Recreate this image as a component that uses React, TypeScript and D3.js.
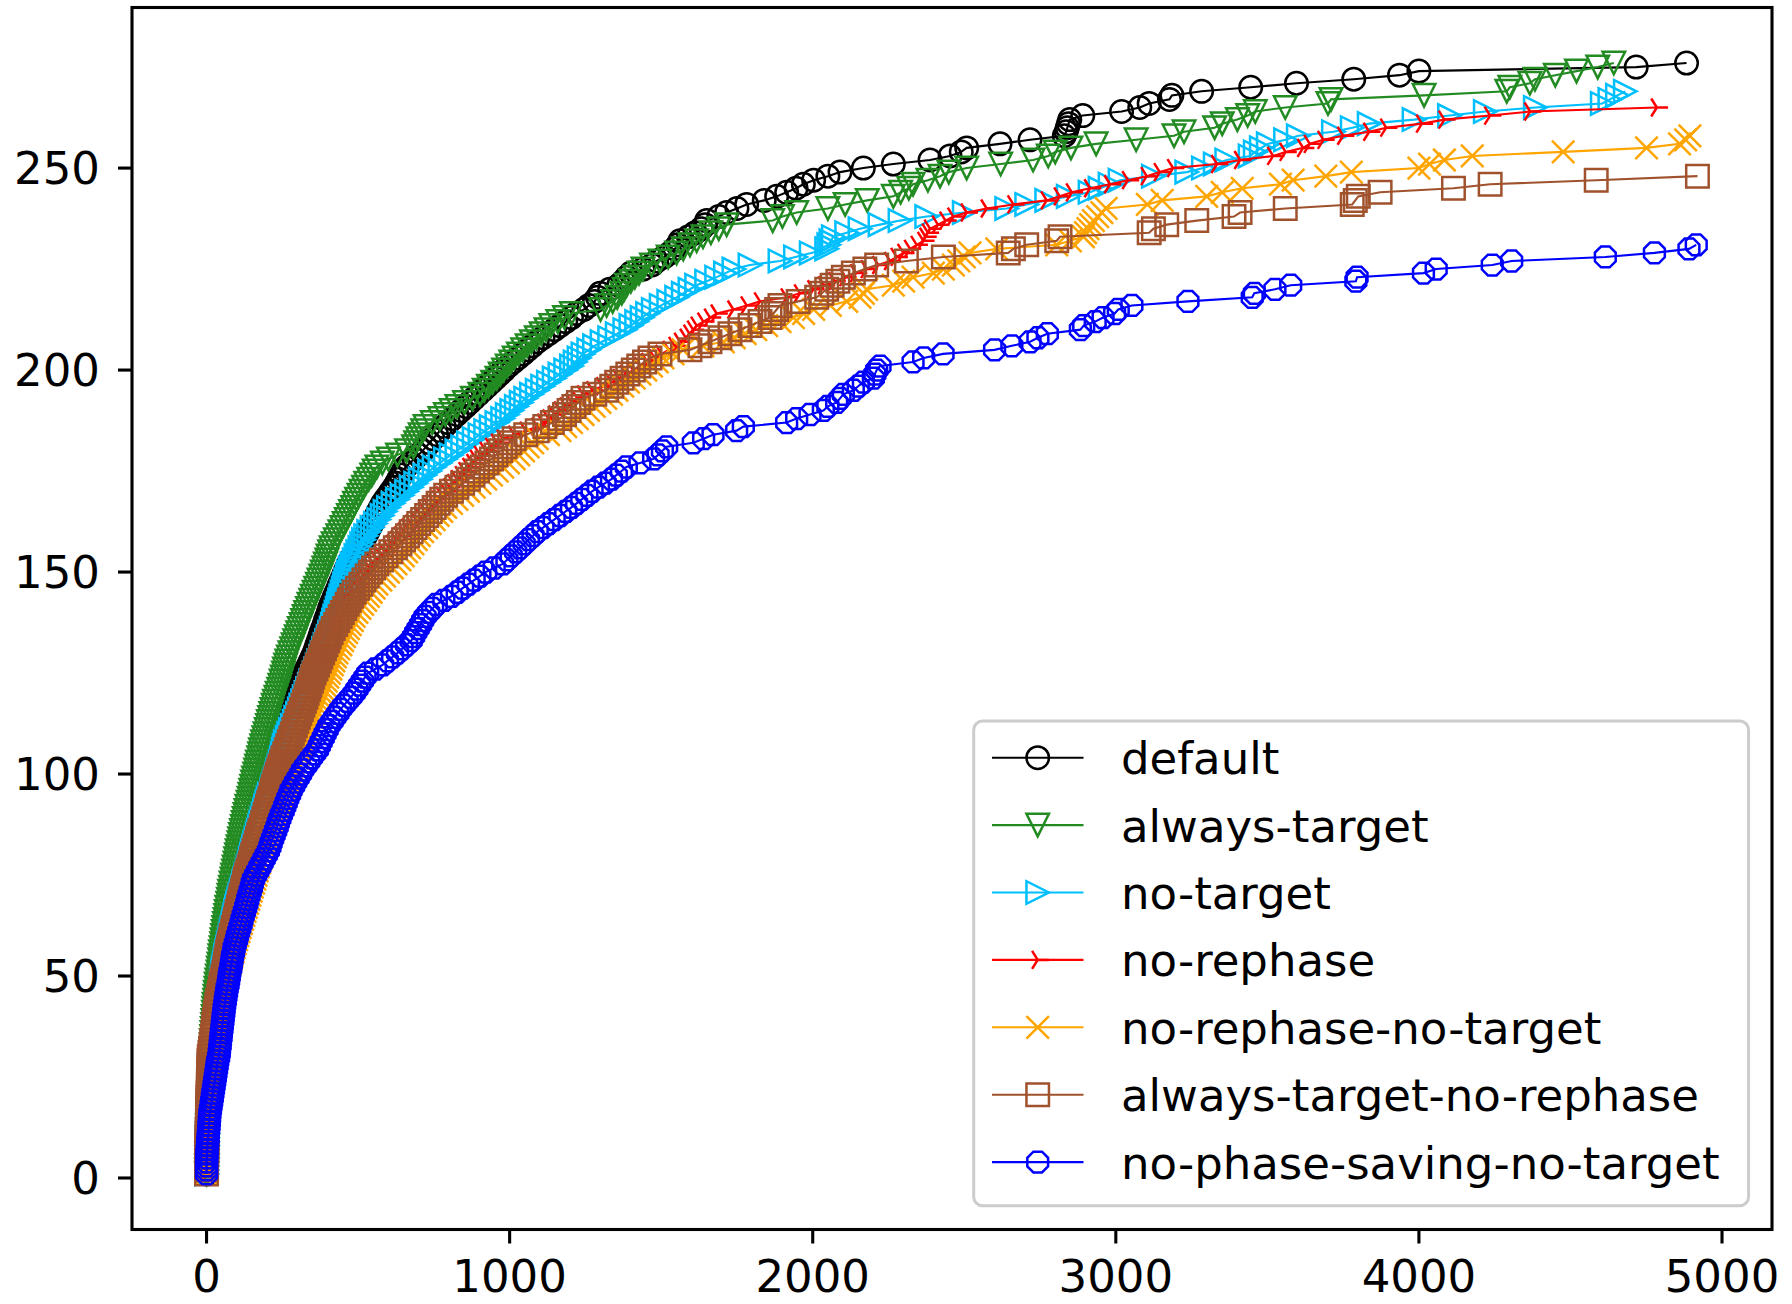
import React from "react";
import * as d3 from "d3";

// Cactus plot: each series lists the (sorted) solve times; the y value of the k-th point is k.
const seriesNames = [
  "default",
  "always-target",
  "no-target",
  "no-rephase",
  "no-rephase-no-target",
  "always-target-no-rephase",
  "no-phase-saving-no-target",
];

const defaultTimes = [
  0,0,0,0,0,1,1,1,1,2,2,2,3,3,3,4,4,5,5,6,6,7,8,
  9,10,11,12,13,14,15,17,18,19,21,22,24,26,
  28,30,32,34,36,38,40,42,44,46,48,50,51,53,
  56,59,61,64,67,69,72,75,77,80,83,85,88,91,
  94,97,100,103,106,109,112,115,119,122,125,128,
  132,136,140,145,149,153,157,161,165,170,174,
  178,183,187,192,196,201,205,210,214,219,223,
  226,229,232,235,238,241,245,248,251,254,257,260,
  264,268,272,277,281,285,289,293,297,302,306,
  312,318,324,330,337,343,349,355,
  360,364,369,374,378,383,388,392,397,402,406,411,
  417,422,428,434,439,445,451,456,462,468,
  476,484,492,500,509,517,525,
  532,539,546,553,560,567,574,581,
  590,600,609,619,
  627,634,642,649,657,
  671,685,699,713,
  724,736,747,759,770,
  784,798,812,826,
  840,855,869,883,
  897,912,926,940,
  954,968,982,996,
  1012,1028,1044,1059,1075,1091,
  1110,1129,1148,1166,1185,1204,
  1220,1245,1262,1280,1290,1298,1330,1360,1375,1386,1400,1440,1470,1485,1510,1530,1545,1555,1562,1590,
  1612,1632,1645,1650,1690,1716,1750,1782,1840,1881,1914,1945,1969,2003,2050,2090,2167,2266,2387,2453,
  2490,2508,2618,2717,2830,2836,2840,2844,2848,2891,3019,3079,3110,3177,3185,3283,3445,3596,3785,3936,
  4000,4717,4883,
];

const alwaysTargetTimes = [
  0,0,0,1,1,1,2,2,2,3,
  3,4,4,5,5,6,6,7,7,8,
  8,9,9,10,10,11,11,12,12,13,
  14,15,16,16,17,18,19,
  20,21,22,23,24,25,27,28,29,31,32,34,36,
  38,39,41,43,44,46,48,50,51,53,
  55,57,59,61,63,65,67,70,72,74,
  76,79,81,84,86,89,91,
  94,96,99,101,104,107,109,112,115,
  118,121,124,127,130,133,137,140,
  143,146,149,152,155,159,162,
  165,168,172,175,178,182,185,
  189,193,197,201,204,208,212,
  216,220,224,229,233,238,242,
  246,250,254,257,261,265,
  270,275,281,286,291,
  296,301,306,312,317,322,
  327,333,338,344,349,355,
  360,366,371,377,382,
  387,392,397,401,406,411,
  418,425,433,440,
  447,454,461,468,
  475,482,488,495,
  503,510,518,525,
  535,545,553,562,580,600,630,660,683,
  690,697,705,713,721,745,770,
  788,807,826,851,877,902,
  916,930,944,958,
  969,980,992,1004,1015,
  1029,1043,1058,1072,
  1088,1104,1120,1136,
  1159,1181,1204,
  1300,1320,1340,1355,1370,1378,1386,1400,1413,1427,1440,1468,1496,1523,1551,1573,1595,1617,1638,1664,
  1690,1716,1868,1900,1947,2050,2107,2180,2266,2290,2317,2331,2380,2420,2449,2508,2620,2727,2777,2800,
  2852,2935,3067,3192,3225,3326,3351,3401,3435,3460,3559,3700,3710,4017,4290,4300,4366,4383,4450,4520,
  4590,4643,
];

const noTargetTimes = [
  0,0,0,0,1,1,1,2,2,2,
  3,3,3,4,4,5,5,6,6,7,
  7,8,9,10,11,12,13,14,16,17,19,
  20,22,24,26,28,30,32,34,36,38,
  40,42,44,45,47,48,49,50,52,53,
  55,58,61,63,66,69,72,75,78,
  81,84,87,90,93,96,99,102,
  106,110,114,118,122,126,130,
  134,137,141,144,148,151,155,
  159,163,167,171,175,179,183,
  187,191,195,199,203,207,215,
  219,223,227,231,235,239,
  243,247,250,253,256,260,
  266,271,277,283,289,294,300,306,
  311,317,322,328,333,339,344,350,355,
  360,365,370,376,381,386,391,396,401,406,411,
  415,419,423,427,431,435,439,443,447,451,455,459,464,468,
  474,480,487,493,499,506,512,518,525,
  535,546,557,568,579,589,600,
  615,630,645,660,675,
  690,705,720,736,751,
  770,788,807,826,
  845,864,883,902,
  921,939,958,977,
  992,1007,1022,1038,1053,
  1072,1091,1109,1128,
  1147,1166,1185,1204,
  1216,1229,1242,1261,1280,1305,1330,1355,1380,1400,1419,1437,1455,1474,1500,1525,1551,1573,1595,1617,
  1650,1683,1712,1740,1793,1892,1943,1995,2046,2053,2060,2068,2112,2156,2222,2288,2376,2500,2640,2706,
  2772,2843,2915,2948,2981,3014,3124,3234,3289,3328,3366,3443,3460,3480,3503,3560,3602,3718,3780,3836,
  3984,4101,4219,4384,4605,4630,4655,4681,
];

const noRephaseTimes = [
  0,0,0,1,1,2,2,3,3,4,
  4,5,5,6,6,7,8,8,9,10,
  11,12,13,14,15,16,17,18,19,
  21,23,25,27,29,31,34,36,38,41,
  43,45,47,49,51,53,55,58,60,
  63,66,69,72,75,78,81,84,87,
  90,93,96,99,102,104,107,109,
  113,117,121,125,129,133,137,141,
  145,149,152,156,159,163,166,
  170,174,178,182,186,190,194,
  198,202,206,210,214,219,223,
  228,233,238,243,248,253,
  258,263,268,274,279,
  284,289,294,300,305,310,
  315,320,326,331,336,
  341,346,351,356,361,366,
  371,375,379,383,388,392,
  397,402,407,413,418,423,
  428,433,439,444,449,
  456,463,470,477,484,491,
  498,505,512,518,525,
  537,550,562,575,587,600,
  612,625,637,650,662,675,
  690,705,721,736,751,
  764,776,789,801,814,826,
  839,851,864,877,889,902,
  921,939,958,977,
  1015,1053,1091,
  1110,1128,1147,1166,
  1185,1204,1223,1242,
  1273,1305,1336,
  1360,1383,1407,1430,
  1454,1478,1501,1525,
  1544,1562,1581,
  1593,1605,1617,
  1639,1661,1683,
  1738,1782,1826,1914,1958,2002,
  2037,2072,2108,2143,2178,
  2216,2255,
  2277,2299,2321,2343,2365,
  2372,2380,2387,
  2413,2438,2464,
  2508,2574,2662,2772,2815,2855,2915,2981,3040,3102,3145,3189,3334,3410,3519,3560,3618,3640,3685,3750,
  3836,3892,4010,4084,4235,4367,4785,
];

const noRephaseNoTargetTimes = [
  0,0,0,1,1,1,2,2,3,3,
  4,4,5,6,6,7,8,8,9,10,
  11,12,12,13,14,15,
  17,19,20,22,24,26,28,30,32,
  34,35,37,38,40,41,43,45,
  48,51,55,58,62,65,68,
  71,75,78,81,84,88,91,
  95,99,103,107,111,115,119,
  123,127,131,135,139,143,147,
  151,155,159,163,167,171,175,
  179,183,187,192,196,200,204,
  209,214,219,224,229,234,
  239,244,250,255,260,
  265,270,275,280,285,291,
  296,300,304,308,313,317,
  322,327,333,338,343,348,
  353,358,364,369,374,
  379,384,390,395,400,405,
  410,415,420,425,430,
  436,443,449,455,462,
  468,474,481,487,
  496,506,515,525,
  534,543,553,562,
  575,587,600,
  613,625,638,
  649,660,670,681,
  692,702,713,
  726,738,751,
  764,776,789,
  808,826,845,864,
  883,902,921,940,
  959,977,996,1015,
  1030,1046,1061,1076,1091,
  1128,1166,
  1185,1204,1223,
  1242,1260,1279,1298,
  1317,1336,1354,
  1373,1392,1411,1430,1449,
  1468,1487,1506,
  1539,1572,1638,1705,
  1741,1777,1812,1848,
  1892,1936,1970,2003,2058,2112,
  2156,2167,2178,2266,2300,2331,2398,2431,2464,
  2482,2500,2519,2607,2805,2850,2893,
  2900,2908,2917,2926,2940,2954,2968,
  3104,3153,3300,3351,3417,3543,3585,3693,3777,4000,4035,4084,4176,4476,4751,4860,4880,4894,
];

const alwaysTargetNoRephaseTimes = [
  0,0,0,0,0,1,1,1,1,2,
  2,2,3,3,3,4,4,4,5,5,
  5,6,6,6,7,7,7,8,8,
  9,11,13,15,17,19,21,
  23,24,26,28,30,32,34,
  37,40,43,46,48,51,54,
  57,60,62,64,67,69,72,
  75,78,81,85,88,92,95,98,101,
  105,108,111,114,118,121,125,128,
  132,136,140,144,148,152,156,
  160,164,168,172,176,181,185,
  189,193,197,201,205,209,213,
  217,221,225,229,233,238,242,
  247,252,258,263,268,273,
  278,283,288,293,298,
  303,308,313,318,323,328,
  332,337,341,346,350,355,
  361,366,372,377,383,
  389,394,400,405,411,
  418,426,433,441,448,
  456,464,471,479,487,
  498,509,519,530,
  541,551,562,
  577,592,608,623,638,
  650,663,675,688,700,713,
  726,738,751,764,776,789,
  808,826,845,864,
  879,894,910,925,940,
  955,970,985,1000,1015,
  1053,1091,
  1116,1141,1166,
  1181,1196,1212,1227,1242,
  1281,1320,1337,1353,
  1371,1390,1408,
  1426,1445,1463,
  1496,1595,1628,1661,
  1694,1727,1760,
  1793,1826,1859,
  1870,1881,1892,
  1952,2013,2030,2046,
  2064,2083,2101,2134,2172,2211,2309,2431,
  2645,2662,2706,2805,2816,3110,3124,3168,3267,3390,3410,3559,3780,3790,3800,3872,4114,4235,4585,4919,
];

const noPhaseSavingNoTargetTimes = [
  0,0,0,0,1,1,2,3,4,
  5,6,7,8,9,10,11,13,15,17,19,
  21,23,25,27,29,31,33,35,37,40,42,
  43,45,46,48,49,51,52,54,55,57,58,60,62,64,
  66,68,71,73,75,77,80,82,84,86,89,91,
  95,99,102,106,110,114,117,121,
  125,129,133,136,140,144,148,151,155,
  162,169,176,183,190,197,204,
  209,213,218,223,228,233,237,242,
  247,253,258,263,268,274,279,
  287,294,302,310,317,
  327,337,346,356,366,
  372,378,385,391,398,404,
  414,423,433,442,
  453,464,476,487,
  496,505,514,523,532,
  557,581,
  597,614,630,
  645,660,675,
  683,690,698,706,713,721,
  733,746,758,
  783,808,
  827,845,864,
  883,902,921,
  949,977,
  991,1005,1020,1034,
  1048,1062,1077,1091,
  1110,1128,1147,
  1166,1185,1204,
  1221,1238,1255,1272,
  1293,1315,1336,
  1352,1369,1385,
  1430,1475,
  1490,1504,1518,
  1606,1640,1671,1749,1771,
  1914,1947,1991,2035,2050,2079,2090,2101,2134,2150,2167,2200,2205,2211,2222,2331,2366,2430,2600,2657,
  2717,2743,2774,2883,2894,2932,2958,2996,3008,3053,3238,3450,3457,3525,3577,3792,3796,4015,4057,4242,
  4306,4615,4777,4891,4915,
];

const seriesTimes = [
  defaultTimes,
  alwaysTargetTimes,
  noTargetTimes,
  noRephaseTimes,
  noRephaseNoTargetTimes,
  alwaysTargetNoRephaseTimes,
  noPhaseSavingNoTargetTimes,
];

const seriesColors = ["#000000", "#228b22", "#00bfff", "#ff0000", "#ffa500", "#a0522d", "#0000ff"];
const seriesMarkers = ["circle", "triangleDown", "triangleRight", "triRight", "x", "square", "octagon"];

const xTicks = [0, 1000, 2000, 3000, 4000, 5000];
const yTicks = [0, 50, 100, 150, 200, 250];

const W = 1792;
const H = 1304;
const plot = { left: 132, right: 1772, top: 7.5, bottom: 1229.5 };
const FONT = "'DejaVu Sans', sans-serif";
const FS = 45;
const MS = 22.5; // marker size in px
const h = MS / 2;

function markerPath(kind: string): string {
  switch (kind) {
    case "triangleDown":
      return `M0,${h}L${-h},${-h}L${h},${-h}Z`;
    case "triangleRight":
      return `M${h},0L${-h},${-h}L${-h},${h}Z`;
    case "triRight":
      return `M0,0L${h},0M0,0L${-0.25 * MS},${-0.4 * MS}M0,0L${-0.25 * MS},${0.4 * MS}`;
    case "x":
      return `M${-h},${-h}L${h},${h}M${-h},${h}L${h},${-h}`;
    case "square":
      return `M${-h},${-h}H${h}V${h}H${-h}Z`;
    case "octagon": {
      const pts = d3.range(8).map((k) => {
        const a = ((22.5 + 45 * k) * Math.PI) / 180;
        return [h * Math.cos(a), h * Math.sin(a)];
      });
      return "M" + pts.map((p) => `${p[0].toFixed(2)},${p[1].toFixed(2)}`).join("L") + "Z";
    }
    default:
      return `M${h},0A${h},${h} 0 1,1 ${-h},0A${h},${h} 0 1,1 ${h},0Z`;
  }
}

export default function App() {
  const allX = seriesTimes.flat();
  const [x0, x1] = d3.extent(allX) as [number, number];
  const xPad = (x1 - x0) * 0.05;
  const yMax = d3.max(seriesTimes, (s) => s.length) as number;
  const yPad = (yMax - 1) * 0.05;

  const x = d3.scaleLinear().domain([x0 - xPad, x1 + xPad]).range([plot.left, plot.right]);
  const y = d3.scaleLinear().domain([1 - yPad, yMax + yPad]).range([plot.bottom, plot.top]);

  const line = d3
    .line<number>()
    .x((t) => x(t))
    .y((_, i) => y(i + 1));

  const legend = { left: 973.7, top: 721, right: 1748.6, bottom: 1205.8 };
  const rowY = (i: number) => 757.7 + i * 67.4;

  return (
    <svg
      width={W}
      height={H}
      style={{ position: "absolute", left: 0, top: 0, background: "#fff" }}
      fontFamily={FONT}
    >
      <rect x={0} y={0} width={W} height={H} fill="#fff" />
      <defs>
        <clipPath id="plotClip">
          <rect x={plot.left} y={plot.top} width={plot.right - plot.left} height={plot.bottom - plot.top} />
        </clipPath>
      </defs>

      <g clipPath="url(#plotClip)">
        {seriesTimes.map((times, si) => (
          <g key={seriesNames[si]}>
            <path d={line(times) || ""} fill="none" stroke={seriesColors[si]} strokeWidth={2.1} />
            {times.map((t, i) => (
              <path
                key={i}
                d={markerPath(seriesMarkers[si])}
                transform={`translate(${x(t)},${y(i + 1)})`}
                fill="none"
                stroke={seriesColors[si]}
                strokeWidth={2.5}
              />
            ))}
          </g>
        ))}
      </g>

      {/* axes frame */}
      <rect
        x={plot.left}
        y={plot.top}
        width={plot.right - plot.left}
        height={plot.bottom - plot.top}
        fill="none"
        stroke="#000"
        strokeWidth={3.1}
      />

      {xTicks.map((t) => (
        <g key={"x" + t}>
          <line x1={x(t)} x2={x(t)} y1={plot.bottom} y2={plot.bottom + 14} stroke="#000" strokeWidth={3.1} />
          <text x={x(t)} y={1292} fontSize={FS} textAnchor="middle" fill="#000">
            {t}
          </text>
        </g>
      ))}
      {yTicks.map((t) => (
        <g key={"y" + t}>
          <line x1={plot.left - 14} x2={plot.left} y1={y(t)} y2={y(t)} stroke="#000" strokeWidth={3.1} />
          <text x={100} y={y(t) + 16.4} fontSize={FS} textAnchor="end" fill="#000">
            {t}
          </text>
        </g>
      ))}

      {/* legend */}
      <rect
        x={legend.left}
        y={legend.top}
        width={legend.right - legend.left}
        height={legend.bottom - legend.top}
        rx={9}
        ry={9}
        fill="#fff"
        fillOpacity={0.8}
        stroke="#cccccc"
        strokeWidth={3}
      />
      {seriesNames.map((name, i) => (
        <g key={"leg" + name}>
          <line x1={992} x2={1083.5} y1={rowY(i)} y2={rowY(i)} stroke={seriesColors[i]} strokeWidth={2.1} />
          <path
            d={markerPath(seriesMarkers[i])}
            transform={`translate(1037.7,${rowY(i)})`}
            fill="none"
            stroke={seriesColors[i]}
            strokeWidth={2.5}
          />
          <text x={1121} y={rowY(i) + 16.5} fontSize={FS} fill="#000">
            {name}
          </text>
        </g>
      ))}
    </svg>
  );
}
